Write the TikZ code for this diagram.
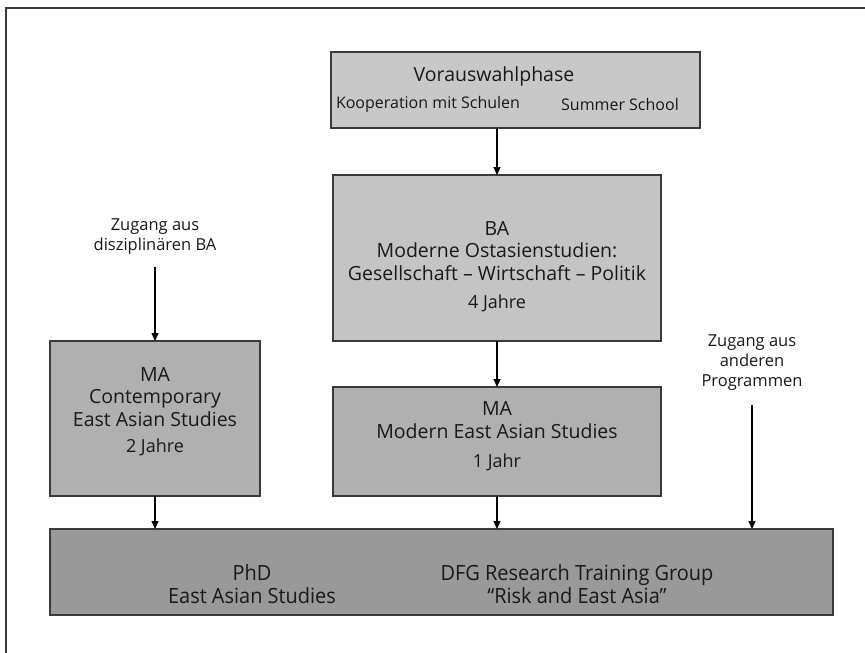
\documentclass[tikz,border=0pt]{standalone}
\usepackage{fontspec}
\setmainfont{Open Sans}
\usetikzlibrary{arrows.meta}
\definecolor{linecol}{HTML}{3A3A3A}
\definecolor{fillA}{HTML}{C8C8C8}
\definecolor{fillB}{HTML}{C4C4C4}
\definecolor{fillC}{HTML}{B0B0B0}
\definecolor{fillD}{HTML}{999999}
\begin{document}
\begin{tikzpicture}[x=1pt,y=-1pt,
  box/.style={draw=linecol, line width=1.4pt, inner sep=0pt, outer sep=0pt},
  arr/.style={draw=black, line width=1.2pt, -{Triangle[length=8pt,width=7pt]}},
  big/.style={font=\fontsize{19.5}{22.5}\selectfont, align=center, inner sep=0pt, text=black!90},
  small/.style={font=\fontsize{18}{20}\selectfont, align=center, inner sep=0pt, text=black!90},
  top/.style={font=\fontsize{16}{18}\selectfont, align=center, inner sep=0pt, text=black!90},
  zug/.style={font=\fontsize{16.5}{20}\selectfont, align=center, inner sep=0pt, text=black!90},
  cond/.style={font=\fontsize{21}{23}\selectfont, align=center, inner sep=0pt, text=black!90}
]
\useasboundingbox (0,0) rectangle (865,653);
% frame
\draw[linecol, line width=2pt] (865,8) -- (6,8) -- (6,653);
% boxes
\node[box, fill=fillA, minimum width=369pt, minimum height=76pt] (vor) at (515.5,90) {};
\node[box, fill=fillB, minimum width=328pt, minimum height=166pt] (ba) at (497,258) {};
\node[box, fill=fillC, minimum width=328pt, minimum height=109pt] (mam) at (497,441.5) {};
\node[box, fill=fillC, minimum width=210pt, minimum height=155pt] (mac) at (155,418.5) {};
\node[box, fill=fillD, minimum width=783pt, minimum height=86pt] (phd) at (441.5,572) {};
% texts
\node[big] (tvor) at (494,76) {Vorauswahlphase};
\node[top] (tkoop) at (428,104) {Kooperation mit Schulen};
\node[top] (tsum) at (620,104) {Summer School};
\node[big] (tba) at (497,251) {BA\\Moderne Ostasienstudien:\\Gesellschaft – Wirtschaft – Politik};
\node[small] (tba2) at (497,303) {4 Jahre};
\node[big] (tmac) at (155,397) {MA\\Contemporary\\East Asian Studies};
\node[small] (tmac2) at (155,447) {2 Jahre};
\node[big] (tmam) at (497,420) {MA\\Modern East Asian Studies};
\node[small] (tmam2) at (497,462) {1 Jahr};
\node[cond] (tphd) at (252,584) {\scalebox{0.95}[1]{PhD}\\\scalebox{0.95}[1]{East Asian Studies}};
\node[cond] (tdfg) at (577,584) {\scalebox{0.95}[1]{DFG Research Training Group}\\\scalebox{0.95}[1]{“Risk and East Asia”}};
\node[zug] (zug1) at (155,237) {Zugang aus\\disziplinären BA};
\node[zug] (zug2) at (752,363) {Zugang aus\\anderen\\Programmen};
% arrows
\draw[arr] (vor.south -| ba.north) -- (ba.north);
\draw[arr] (ba.south) -- (mam.north);
\draw[arr, shorten <=12pt] (zug1.south) -- (mac.north);
\draw[arr] (mac.south) -- (mac.south |- phd.north);
\draw[arr] (mam.south) -- (mam.south |- phd.north);
\draw[arr, shorten <=14pt] (zug2.south) -- (zug2.south |- phd.north);
\end{tikzpicture}
\end{document}
